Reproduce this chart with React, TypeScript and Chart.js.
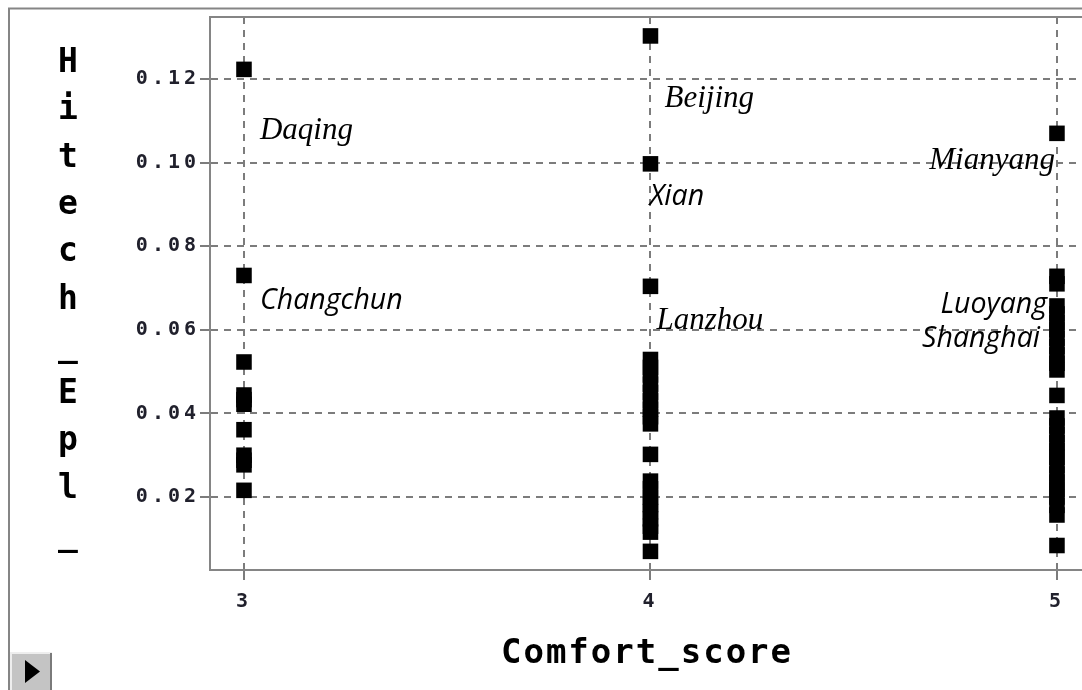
import React, { useEffect, useRef } from 'react';
import { Chart, registerables } from 'chart.js';

Chart.register(...registerables);

// ---------------- data ----------------
const comfortScores = [3, 4, 5];
const hitechAtScore3 = [0.1223, 0.073, 0.0523, 0.0444, 0.0433, 0.0422, 0.0361, 0.03, 0.0288, 0.0277, 0.0216];
const hitechAtScore4 = [
  0.1303, 0.0997, 0.0704, 0.0529, 0.051, 0.0492, 0.047, 0.045, 0.043, 0.041, 0.0392, 0.0375, 0.0302,
  0.0238, 0.022, 0.02, 0.0182, 0.0165, 0.0148, 0.013, 0.0116, 0.007,
];
const hitechAtScore5 = [
  0.107, 0.0728, 0.071, 0.0657, 0.0638, 0.0618, 0.06, 0.058, 0.056, 0.054, 0.052, 0.0504, 0.0443,
  0.0389, 0.037, 0.035, 0.033, 0.0312, 0.0295, 0.0275, 0.0255, 0.0236, 0.0218, 0.02, 0.018, 0.0157, 0.0084,
];
const xTickValues = [3, 4, 5];
const yTickValues = [0.02, 0.04, 0.06, 0.08, 0.1, 0.12];
const xAxisRange = [2.9164, 5.0616];
const yAxisRange = [0.00254, 0.13483];
const xTitle = 'Comfort_score';
const yTitle = 'Hitech_Epl_';

const cityNames = ['Daqing', 'Beijing', 'Xian', 'Mianyang', 'Changchun', 'Lanzhou', 'Luoyang', 'Shanghai'];
const cityScores = [3, 4, 4, 5, 3, 4, 5, 5];
const cityHitech = [0.1223, 0.1303, 0.0997, 0.107, 0.073, 0.0704, 0.0728, 0.0657];

// ---------------- styles / layout ----------------
const SERIF = 'italic 31px "Liberation Serif", "Times New Roman", serif';
const SANS = 'italic 28.5px "Open Sans", "Noto Sans", sans-serif';
const LABEL_LAYOUT = [
  { dx: 16, dy: 70, align: 'left', font: SERIF },
  { dx: 14, dy: 71, align: 'left', font: SERIF },
  { dx: -1, dy: 41, align: 'left', font: SANS },
  { dx: -2, dy: 36, align: 'right', font: SERIF },
  { dx: 16, dy: 34, align: 'left', font: SANS },
  { dx: 6, dy: 43, align: 'left', font: SERIF },
  { dx: -10, dy: 37, align: 'right', font: SANS },
  { dx: -17, dy: 41, align: 'right', font: SANS },
];
const MONO = '"DejaVu Sans Mono", "Liberation Mono", monospace';
const GRID_COLOR = '#7c7c7c';
const FRAME_COLOR = '#858585';

const decorPlugin = {
  id: 'decor',
  beforeDraw(chart: any) {
    const ctx = chart.ctx;
    ctx.save();
    ctx.fillStyle = '#ffffff';
    ctx.fillRect(0, 0, chart.width, chart.height);
    ctx.restore();
    ctx.letterSpacing = '4px';
  },
  afterDraw(chart: any) {
    const ctx = chart.ctx;
    const area = chart.chartArea;
    const xs = chart.scales.x;
    const ys = chart.scales.y;
    ctx.save();
    ctx.letterSpacing = '0px';

    // outer frame and plot top line
    ctx.strokeStyle = FRAME_COLOR;
    ctx.lineWidth = 2;
    ctx.beginPath();
    ctx.moveTo(9, chart.height);
    ctx.lineTo(9, 8.5);
    ctx.lineTo(chart.width, 8.5);
    ctx.stroke();
    ctx.beginPath();
    ctx.moveTo(area.left, area.top);
    ctx.lineTo(chart.width, area.top);
    ctx.stroke();

    // city labels
    ctx.fillStyle = '#000';
    ctx.textBaseline = 'alphabetic';
    cityNames.forEach((name, i) => {
      const lay = LABEL_LAYOUT[i];
      const px = xs.getPixelForValue(cityScores[i]);
      const py = ys.getPixelForValue(cityHitech[i]);
      ctx.font = lay.font;
      ctx.textAlign = lay.align;
      ctx.fillText(name, px + lay.dx, py + lay.dy);
    });

    // x title
    ctx.font = `bold 34px ${MONO}`;
    ctx.letterSpacing = '2px';
    ctx.textAlign = 'center';
    ctx.fillText(xTitle, (area.left + area.right) / 2 + 1, 663);

    // y title stacked
    ctx.letterSpacing = '0px';
    ctx.font = `bold 33px ${MONO}`;
    yTitle.split('').forEach((ch, i) => {
      ctx.fillText(ch, 68, 72 + i * 47.3);
    });

    // button bottom-left
    ctx.fillStyle = '#c4c4c4';
    ctx.fillRect(10, 652, 42, 38);
    ctx.strokeStyle = '#eeeeee';
    ctx.lineWidth = 2;
    ctx.beginPath();
    ctx.moveTo(11, 690);
    ctx.lineTo(11, 653);
    ctx.lineTo(52, 653);
    ctx.stroke();
    ctx.strokeStyle = '#7a7a7a';
    ctx.beginPath();
    ctx.moveTo(51, 653);
    ctx.lineTo(51, 690);
    ctx.stroke();
    ctx.fillStyle = '#000';
    ctx.beginPath();
    ctx.moveTo(25, 660);
    ctx.lineTo(25, 683);
    ctx.lineTo(40, 671.5);
    ctx.closePath();
    ctx.fill();
    ctx.restore();
  },
};

export default function App() {
  const canvasRef = useRef<HTMLCanvasElement | null>(null);

  useEffect(() => {
    if (!canvasRef.current) return;
    const points: { x: number; y: number }[] = [];
    const columns = [hitechAtScore3, hitechAtScore4, hitechAtScore5];
    columns.forEach((col, ci) => col.forEach((v) => points.push({ x: comfortScores[ci], y: v })));

    const tickFont = { family: MONO, size: 20, weight: 'bold' as const };

    const chart = new Chart(canvasRef.current, {
      type: 'scatter',
      data: {
        datasets: [
          {
            data: points,
            pointStyle: 'rect',
            pointRadius: 11,
            pointBackgroundColor: '#000',
            pointBorderColor: '#000',
            pointBorderWidth: 0,
            showLine: false,
          },
        ],
      },
      options: {
        animation: false,
        responsive: false,
        devicePixelRatio: 1,
        events: [],
        layout: { autoPadding: false, padding: { left: 10, top: 17, right: 0, bottom: 0 } },
        plugins: { legend: { display: false }, tooltip: { enabled: false } },
        scales: {
          x: {
            type: 'linear',
            min: xAxisRange[0],
            max: xAxisRange[1],
            afterBuildTicks: (s: any) => {
              s.ticks = xTickValues.map((v) => ({ value: v }));
            },
            afterFit: (s: any) => {
              s.height = 120;
              s.paddingLeft = 0;
              s.paddingRight = 0;
            },
            ticks: {
              font: tickFont,
              color: '#20202c',
              padding: 10,
              callback: (v: any) => String(v),
            },
            grid: { color: GRID_COLOR, lineWidth: 2, tickLength: 10, tickColor: GRID_COLOR, tickWidth: 2 },
            border: { display: true, color: FRAME_COLOR, width: 2, dash: [7, 6] },
          },
          y: {
            type: 'linear',
            min: yAxisRange[0],
            max: yAxisRange[1],
            afterBuildTicks: (s: any) => {
              s.ticks = yTickValues.map((v) => ({ value: v }));
            },
            afterFit: (s: any) => {
              s.width = 200;
              s.paddingTop = 0;
              s.paddingBottom = 0;
            },
            ticks: {
              font: tickFont,
              color: '#20202c',
              padding: 0,
              callback: (v: any) => Number(v).toFixed(2),
            },
            grid: { color: GRID_COLOR, lineWidth: 2, tickLength: 10, tickColor: GRID_COLOR, tickWidth: 2 },
            border: { display: true, color: FRAME_COLOR, width: 2, dash: [7, 6] },
          },
        },
      },
      plugins: [decorPlugin],
    });
    return () => chart.destroy();
  }, []);

  return (
    <div style={{ position: 'absolute', left: 0, top: 0, width: 1082, height: 690 }}>
      <canvas ref={canvasRef} width={1082} height={690} />
    </div>
  );
}
